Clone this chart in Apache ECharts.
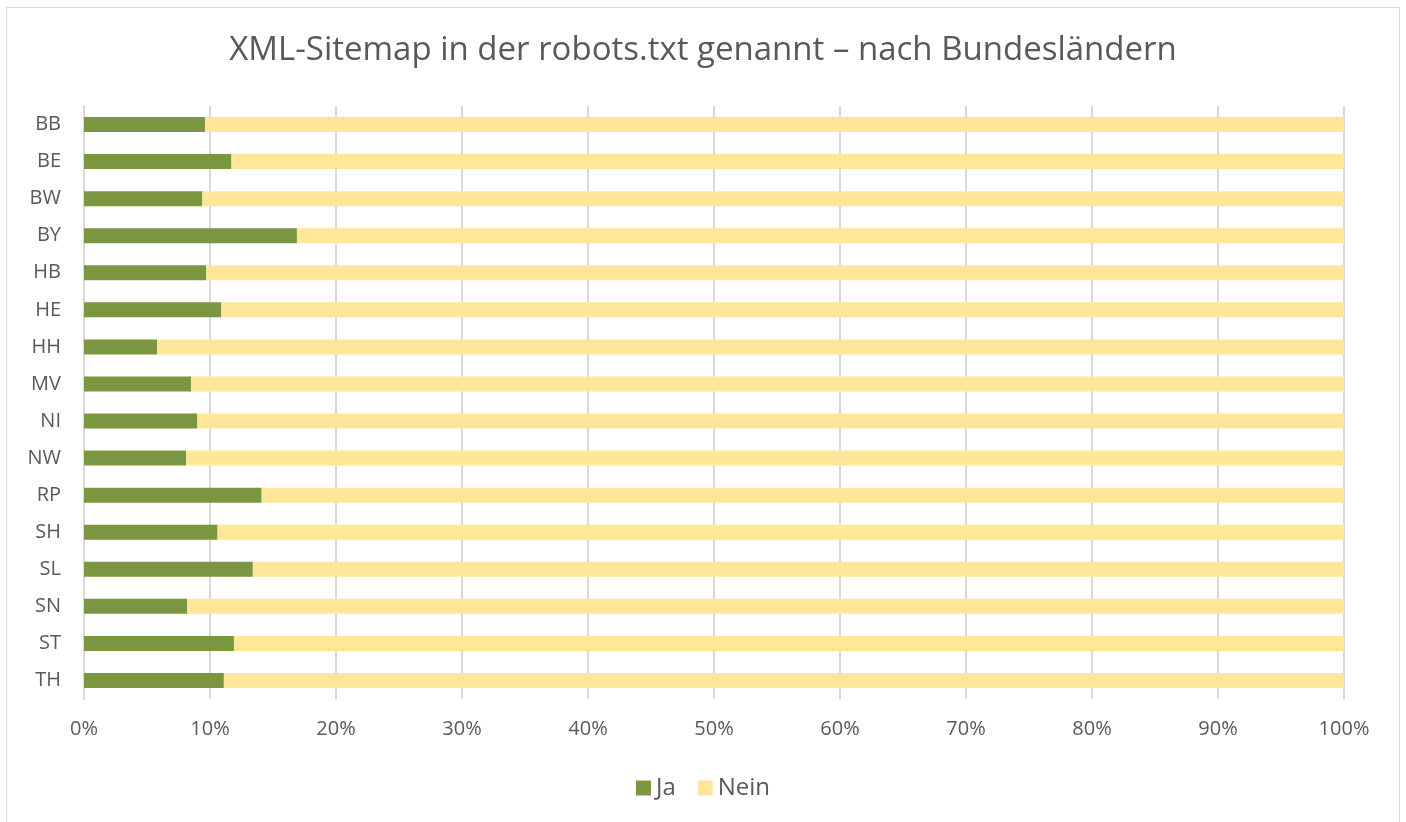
<!DOCTYPE html>
<html>
<head>
<meta charset="utf-8">
<script src="https://cdn.jsdelivr.net/npm/echarts@6/dist/echarts.min.js"></script>
<style>
  html, body { margin: 0; padding: 0; background: #fff; }
  #frame { position: absolute; left: 6px; top: 7px; width: 1394px; height: 830px; border: 1px solid #d9d9d9; box-sizing: border-box; }
  #chart { position: absolute; left: 0; top: 0; width: 1406px; height: 822px; }
</style>
</head>
<body>
<div id="frame"></div>
<div id="chart"></div>
<script>
const states = ['BB', 'BE', 'BW', 'BY', 'HB', 'HE', 'HH', 'MV', 'NI', 'NW', 'RP', 'SH', 'SL', 'SN', 'ST', 'TH'];
const ja   = [9.6, 11.7, 9.4, 16.9, 9.7, 10.9, 5.8, 8.5, 9.0, 8.1, 14.1, 10.6, 13.4, 8.2, 11.9, 11.1];
const nein = [90.4, 88.3, 90.6, 83.1, 90.3, 89.1, 94.2, 91.5, 91.0, 91.9, 85.9, 89.4, 86.6, 91.8, 88.1, 88.9];

const font = '"Open Sans", "Noto Sans", sans-serif';
const txt = '#595959';

const myChart = echarts.init(document.getElementById('chart'));
const option = {
  animation: false,
  textStyle: { fontFamily: font },
  title: {
    text: 'XML-Sitemap in der robots.txt genannt – nach Bundesländern',
    left: 'center',
    top: 29,
    textStyle: { fontFamily: font, fontSize: 33, fontWeight: 'normal', color: txt }
  },
  legend: {
    bottom: 17,
    left: 'center',
    itemWidth: 15,
    itemHeight: 15,
    itemGap: 22,
    icon: 'rect',
    textStyle: { fontFamily: font, fontSize: 24, color: txt, padding: [0, 0, 0, 0] },
    data: ['Ja', 'Nein']
  },
  grid: { left: 84, right: 62, top: 106, bottom: 123, containLabel: false },
  xAxis: {
    type: 'value',
    min: 0,
    max: 100,
    interval: 10,
    axisLine: { show: false },
    axisTick: { show: false },
    splitLine: { lineStyle: { color: '#d9d9d9', width: 2 } },
    axisLabel: { formatter: '{value}%', fontFamily: font, fontSize: 20, color: txt, margin: 20 }
  },
  yAxis: {
    type: 'category',
    inverse: true,
    data: states,
    axisLine: { show: true, lineStyle: { color: '#d9d9d9', width: 2 } },
    axisTick: { show: false },
    axisLabel: { fontFamily: font, fontSize: 20, color: txt, margin: 23 }
  },
  series: [
    {
      name: 'Ja',
      type: 'bar',
      stack: 'total',
      barWidth: 15,
      data: ja,
      itemStyle: { color: '#7a9640' }
    },
    {
      name: 'Nein',
      type: 'bar',
      stack: 'total',
      barWidth: 15,
      data: nein,
      itemStyle: { color: '#ffe699' }
    }
  ]
};
option && myChart.setOption(option);
</script>
</body>
</html>
